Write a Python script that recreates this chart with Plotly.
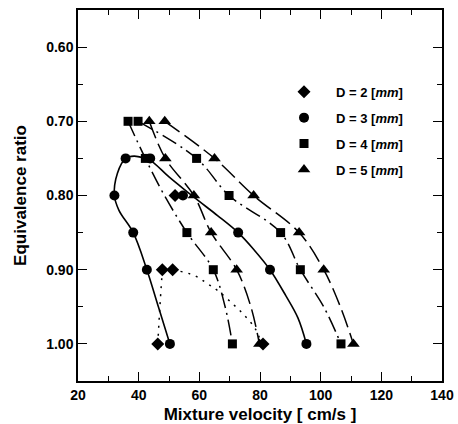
import plotly.graph_objects as go

# ---- marker data ----
d2_x = [46.3, 81.0, 47.8, 51.2, 52.0]
d2_y = [1.00, 1.00, 0.90, 0.90, 0.80]

d3_x = [50.3, 42.7, 38.2, 32.0, 35.7, 43.8, 54.6, 72.8, 83.3, 95.3]
d3_y = [1.00, 0.90, 0.85, 0.80, 0.75, 0.75, 0.80, 0.85, 0.90, 1.00]

d4_x = [36.5, 42.2, 55.9, 64.6, 70.9, 39.8, 59.1, 69.8, 86.8, 93.3, 106.7]
d4_y = [0.70, 0.75, 0.85, 0.90, 1.00, 0.70, 0.75, 0.80, 0.85, 0.90, 1.00]

d5_x = [43.5, 48.8, 58.2, 63.9, 72.3, 79.8, 48.6, 65.0, 77.9, 92.9, 101.0, 110.8]
d5_y = [0.70, 0.75, 0.80, 0.85, 0.90, 1.00, 0.70, 0.75, 0.80, 0.85, 0.90, 1.00]

# ---- fitted curves ----
d2_low_x = [46.3, 47.0, 47.8]
d2_low_y = [1.00, 0.95, 0.90]
d2_up_x = [51.2, 58.5, 62.7, 66.0, 71.0, 75.0, 78.5, 80.5]
d2_up_y = [0.90, 0.908, 0.919, 0.928, 0.946, 0.962, 0.980, 1.00]

d3_fit_x = [50.3, 46.5, 42.7, 38.2, 33.5, 32.0, 33.0, 35.7, 38.5, 42.0, 44.0, 50.0,
            56.0, 60.0, 66.0, 72.8, 78.0, 83.3, 88.5, 92.5, 95.3]
d3_fit_y = [1.00, 0.95, 0.90, 0.85, 0.82, 0.80, 0.77, 0.75, 0.747, 0.75, 0.753, 0.775,
            0.795, 0.808, 0.827, 0.85, 0.873, 0.90, 0.935, 0.965, 1.00]

d4_low_x = [36.5, 42.2, 48.5, 55.9, 64.6, 68.5, 70.9]
d4_low_y = [0.70, 0.75, 0.80, 0.85, 0.90, 0.95, 1.00]
d4_up_x = [39.8, 59.1, 69.8, 86.8, 93.3, 101.0, 106.7]
d4_up_y = [0.70, 0.75, 0.80, 0.85, 0.90, 0.95, 1.00]

d5_low_x = [43.5, 48.8, 58.2, 63.9, 72.3, 77.0, 79.8]
d5_low_y = [0.70, 0.75, 0.80, 0.85, 0.90, 0.95, 1.00]
d5_up_x = [48.6, 65.0, 77.9, 92.9, 101.0, 106.5, 110.8]
d5_up_y = [0.70, 0.75, 0.80, 0.85, 0.90, 0.95, 1.00]

names = ["D = 2 [<i>mm</i>]", "D = 3 [<i>mm</i>]", "D = 4 [<i>mm</i>]", "D = 5 [<i>mm</i>]"]
symbols = ["diamond", "circle", "square", "triangle-up"]

FONT = "Liberation Sans"
fig = go.Figure()

def line(x, y, dash, w=1.5):
    fig.add_trace(go.Scatter(x=x, y=y, mode="lines", showlegend=False, hoverinfo="skip",
                             line=dict(color="black", width=w, dash=dash, shape="spline")))

line(d2_low_x, d2_low_y, "2px,6px")
line(d2_up_x, d2_up_y, "2px,6px")
line(d3_fit_x, d3_fit_y, "solid", 1.6)
line(d4_low_x, d4_low_y, "16px,5px,2px,5px")
line(d4_up_x, d4_up_y, "16px,5px,2px,5px")
line(d5_low_x, d5_low_y, "18px,6px")
line(d5_up_x, d5_up_y, "18px,6px")

marker_sets = [(d2_x, d2_y, 10), (d3_x, d3_y, 10), (d4_x, d4_y, 9), (d5_x, d5_y, 11)]
for i, (mx, my, ms) in enumerate(marker_sets):
    fig.add_trace(go.Scatter(x=mx, y=my, mode="markers", name=names[i], legendgroup=str(i),
                             marker=dict(symbol=symbols[i], color="black", size=ms,
                                         line=dict(width=0))))

axis_common = dict(showline=True, linecolor="black", linewidth=1.5, mirror="ticks",
                   ticks="inside", ticklen=9, tickwidth=1.2, tickcolor="black",
                   showgrid=False, zeroline=False, automargin=False,
                   tickfont=dict(family=FONT, size=14, color="black", weight="bold"))

fig.update_xaxes(range=[20, 140], tick0=20, dtick=20,
                 minor=dict(dtick=10, ticks="inside", ticklen=5, tickcolor="black", tickwidth=1.2),
                 title=dict(text="Mixture velocity [ cm/s ]",
                            font=dict(family=FONT, size=17, color="black", weight="bold")),
                 **axis_common)
fig.update_yaxes(range=[1.05, 0.55], tick0=0.6, dtick=0.1, tickformat=".2f",
                 minor=dict(dtick=0.05, ticks="inside", ticklen=5, tickcolor="black", tickwidth=1.2),
                 title=dict(text="Equivalence ratio",
                            font=dict(family=FONT, size=17, color="black", weight="bold")),
                 **axis_common)

fig.update_layout(
    width=458, height=424,
    margin=dict(l=78, r=16, t=10, b=43),
    paper_bgcolor="white", plot_bgcolor="white",
    legend=dict(x=0.533, y=0.82, xanchor="left", yanchor="top",
                font=dict(family=FONT, size=13, color="black", weight="bold"),
                itemwidth=54, tracegroupgap=6, bgcolor="rgba(0,0,0,0)", traceorder="grouped"),
)

fig.write_html("out.html")
